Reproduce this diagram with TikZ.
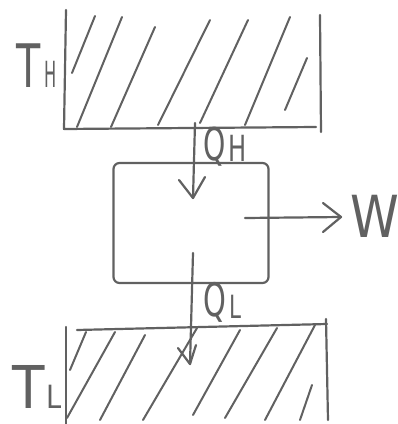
\documentclass[tikz,border=0pt]{standalone}
\usepackage{fontspec}
\setsansfont{DejaVu Sans}
\newcommand\hwl[3]{\scalebox{#1}[1]{\fontsize{#2}{#2}\selectfont #3}}
\begin{document}
\begin{tikzpicture}[x=1pt,y=-1pt,
  ink/.style={draw=black!62, line width=2.2pt, line cap=round, line join=round},
  hatch/.style={draw=black!62, line width=2pt, line cap=round},
  lbl/.style={text=black!62, font=\sffamily, inner sep=0pt, anchor=base west}]
\useasboundingbox[fill=white] (0,0) rectangle (398,424);
% top reservoir
\draw[ink] (66,10) -- (64,129) -- (316,127);
\draw[ink] (320,15) -- (321,132);
\foreach \a/\b in {{95,16}/{72,73},{122,17}/{77,127},{155,27}/{111,127},{210,20}/{158,125},{248,20}/{200,123},{290,17}/{245,125},{307,58}/{285,110}}
  \draw[hatch] (\a) -- (\b);
\node[lbl] (TH) at (16,87) {\hwl{0.66}{60}{T}};
\node[lbl] (THs) at (44,87) {\hwl{0.45}{36}{H}};
% engine box
\node[ink, rounded corners=6pt, minimum width=155pt, minimum height=120pt] (engine) at (191,223) {};
% Q_H
\coordinate (qhs) at (195,123);
\coordinate (qhe) at (193,198);
\draw[ink] (qhs) -- (qhe);
\draw[ink] (179,180) -- (qhe) -- (205,177);
\node[lbl] (QH) at (203,160) {\hwl{0.63}{45}{Q}};
\node[lbl] (QHs) at (228,161) {\hwl{0.67}{36}{H}};
% W
\coordinate (ws) at (245,218);
\coordinate (we) at (341,217);
\draw[ink] (ws) -- (we);
\draw[ink] (323,203) -- (we) -- (323,232);
\node[lbl] (W) at (350,237) {\hwl{0.85}{58}{W}};
% Q_L
\coordinate (qls) at (193,253);
\coordinate (qle) at (190,364);
\draw[ink] (qls) -- (qle);
\draw[ink] (178,348) -- (qle) -- (196,345);
\node[lbl] (QL) at (203,316) {\hwl{0.63}{46}{Q}};
\node[lbl] (QLs) at (229,318) {\hwl{0.67}{32}{L}};
% bottom reservoir
\draw[ink] (66,327) -- (66,424);
\draw[ink] (77,330) -- (327,324);
\draw[ink] (326,319) -- (328,420);
\foreach \a/\b in {{86,332}/{70,370},{115,332}/{67,418},{145,335}/{100,420},{197,328}/{143,420},{240,330}/{193,415},{277,328}/{225,418},{315,325}/{265,420},{312,385}/{300,420}}
  \draw[hatch] (\a) -- (\b);
\node[lbl] (TL) at (12,408) {\hwl{0.9}{59}{T}};
\node[lbl] (TLs) at (46,408) {\hwl{0.85}{32}{L}};
\end{tikzpicture}
\end{document}
